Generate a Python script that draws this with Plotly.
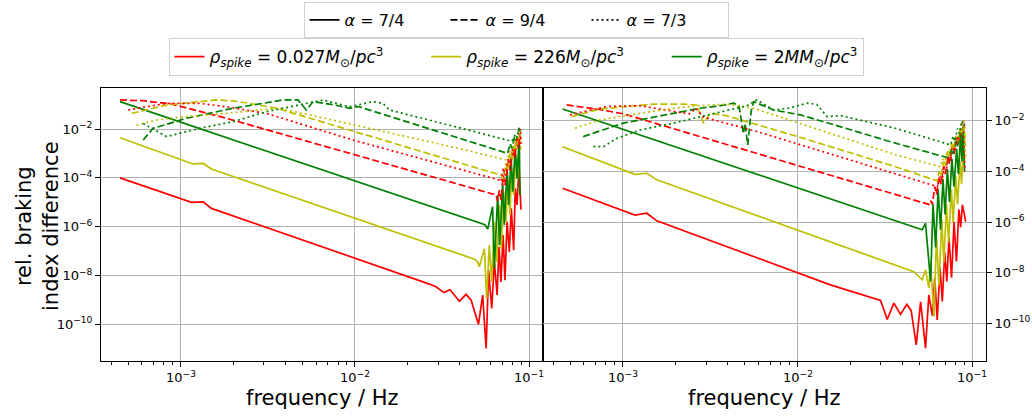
import math
import plotly.graph_objects as go

# ---------------------------------------------------------------------------
# Curves: log10(frequency / Hz) and log10(rel. braking index difference)
# Left panel
# ---------------------------------------------------------------------------
L_RED_SOLID_LF = [-3.347, -2.937, -2.870, -2.823, -1.573, -1.535, -1.490, -1.455, -1.401, -1.363,
                  -1.334, -1.292, -1.268, -1.248, -1.234, -1.216, -1.201, -1.185, -1.174, -1.163,
                  -1.151, -1.140, -1.128, -1.115, -1.104, -1.090, -1.081, -1.071, -1.060, -1.048]
L_RED_SOLID_LV = [-4.00, -5.00, -4.98, -5.25, -8.35, -8.46, -8.70, -8.58, -9.05, -8.77,
                  -9.01, -10.00, -8.80, -10.99, -7.78, -9.35, -7.44, -8.80, -6.82, -8.26,
                  -6.34, -8.19, -5.80, -7.03, -5.25, -6.96, -4.43, -5.11, -3.61, -5.30]

L_YEL_SOLID_LF = [-3.347, -2.928, -2.870, -2.823, -1.315, -1.297, -1.287, -1.268, -1.258, -1.245,
                  -1.230, -1.216, -1.201, -1.187, -1.172, -1.161, -1.148, -1.134, -1.125, -1.111,
                  -1.102, -1.090, -1.077, -1.068, -1.058, -1.048]
L_YEL_SOLID_LV = [-2.36, -3.43, -3.41, -3.64, -7.33, -7.44, -7.64, -7.09, -6.90, -8.94,
                  -6.75, -8.26, -5.80, -7.44, -5.11, -6.89, -4.57, -5.80, -4.02, -5.52,
                  -3.61, -4.70, -3.07, -4.02, -2.66, -2.84]

L_GRN_SOLID_LF = [-3.347, -1.255, -1.239, -1.224, -1.211, -1.201, -1.182, -1.171, -1.153, -1.144,
                  -1.128, -1.119, -1.105, -1.096, -1.081, -1.071, -1.058, -1.054]
L_GRN_SOLID_LV = [-0.88, -5.92, -6.10, -5.66, -5.18, -7.71, -4.70, -6.75, -4.23, -5.93,
                  -3.61, -5.11, -3.13, -4.57, -2.79, -4.02, -2.38, -4.70]

L_RED_DASH_LF = [-3.347, -3.218, -3.056, -2.737, -1.191, -1.182, -1.172, -1.163, -1.150, -1.140,
                 -1.120, -1.110, -1.095, -1.085, -1.072, -1.063, -1.055, -1.048]
L_RED_DASH_LV = [-0.81, -0.84, -0.97, -1.56, -4.70, -4.95, -4.50, -4.90, -3.90, -4.30,
                 -3.30, -3.70, -2.80, -3.20, -2.40, -2.80, -2.20, -2.60]

L_YEL_DASH_LF = [-3.280, -3.080, -2.794, -2.700, -2.603, -2.450, -1.163, -1.150, -1.135, -1.125,
                 -1.110, -1.100, -1.085, -1.075, -1.062, -1.050]
L_YEL_DASH_LV = [-1.36, -1.02, -0.81, -0.85, -0.95, -1.15, -3.89, -4.05, -3.40, -3.70,
                 -3.00, -3.25, -2.60, -2.85, -2.30, -2.50]

L_GRN_DASH_LF = [-3.214, -3.157, -2.966, -2.699, -2.413, -2.327, -2.279, -2.240, -2.128, -2.031,
                 -1.980, -1.144, -1.125, -1.110, -1.100, -1.085, -1.075, -1.060, -1.050]
L_GRN_DASH_LV = [-2.45, -1.97, -1.56, -1.15, -0.81, -0.81, -1.22, -0.88, -1.00, -1.15,
                 -1.08, -2.93, -3.00, -2.60, -2.80, -2.30, -2.50, -2.00, -2.20]

L_RED_DOT_LF = [-3.300, -3.080, -2.890, -2.737, -2.508, -2.012, -1.172, -1.163, -1.150, -1.140,
                -1.120, -1.110, -1.095, -1.085, -1.070, -1.060, -1.052, -1.048]
L_RED_DOT_LV = [-1.22, -0.95, -0.95, -1.09, -1.36, -2.45, -4.09, -4.15, -3.60, -3.90,
                -3.20, -3.50, -2.80, -3.10, -2.30, -2.60, -2.00, -2.60]

L_YEL_DOT_LF = [-3.252, -3.137, -2.985, -2.737, -2.546, -2.432, -1.430, -1.130, -1.110, -1.100,
                -1.085, -1.075, -1.060, -1.050]
L_YEL_DOT_LV = [-1.84, -1.63, -1.50, -1.36, -1.22, -1.15, -2.75, -3.27, -2.90, -3.10,
                -2.50, -2.70, -2.10, -2.30]

L_GRN_DOT_LF = [-3.214, -3.080, -2.890, -2.699, -2.508, -2.317, -2.184, -2.031, -1.898, -1.840,
                -1.802, -1.100, -1.080, -1.070, -1.058, -1.050]
L_GRN_DOT_LV = [-1.77, -2.31, -1.97, -1.70, -1.29, -1.02, -0.81, -1.09, -0.88, -0.95,
                -1.22, -2.50, -2.20, -2.35, -1.95, -2.10]

# ---------------------------------------------------------------------------
# Right panel
# ---------------------------------------------------------------------------
R_RED_SOLID_LF = [-3.344, -2.930, -2.862, -2.805, -1.812, -1.525, -1.487, -1.449, -1.411, -1.375,
                  -1.350, -1.321, -1.296, -1.268, -1.249, -1.229, -1.215, -1.201, -1.185, -1.172,
                  -1.158, -1.146, -1.134, -1.119, -1.105, -1.091, -1.077, -1.067, -1.057, -1.038]
R_RED_SOLID_LV = [-4.66, -5.72, -5.65, -5.95, -8.48, -9.10, -9.85, -9.20, -9.65, -9.25,
                  -9.50, -10.85, -9.15, -10.98, -8.88, -9.70, -8.20, -9.87, -7.80, -9.14,
                  -7.20, -8.35, -6.60, -8.20, -6.00, -7.56, -5.50, -6.20, -5.32, -5.98]

R_YEL_SOLID_LF = [-3.344, -2.930, -2.862, -2.805, -1.335, -1.287, -1.268, -1.249, -1.239, -1.220,
                  -1.205, -1.191, -1.175, -1.163, -1.148, -1.136, -1.120, -1.110, -1.095, -1.085,
                  -1.070, -1.062, -1.052, -1.043]
R_YEL_SOLID_LV = [-3.02, -4.11, -4.07, -4.33, -7.96, -8.28, -7.89, -8.60, -7.60, -9.73,
                  -6.60, -8.50, -5.90, -7.60, -5.30, -6.80, -4.70, -6.00, -4.20, -5.30,
                  -3.60, -4.50, -3.20, -3.50]

R_GRN_SOLID_LF = [-3.344, -1.287, -1.268, -1.249, -1.239, -1.225, -1.210, -1.196, -1.182, -1.168,
                  -1.156, -1.143, -1.131, -1.117, -1.105, -1.090, -1.080, -1.067, -1.060, -1.052,
                  -1.045]
R_GRN_SOLID_LV = [-1.53, -6.30, -6.05, -7.50, -8.35, -5.30, -7.00, -4.70, -6.30, -4.30,
                  -5.70, -3.90, -5.20, -3.50, -4.60, -3.10, -4.10, -2.50, -3.60, -2.20,
                  -4.00]

R_RED_DASH_LF = [-3.321, -3.149, -2.997, -1.249, -1.239, -1.229, -1.215, -1.205, -1.190, -1.180,
                 -1.165, -1.155, -1.140, -1.130, -1.115, -1.105, -1.090, -1.080, -1.065, -1.055,
                 -1.045]
R_RED_DASH_LV = [-1.37, -1.53, -1.72, -5.30, -5.15, -5.30, -4.60, -4.90, -4.20, -4.50,
                 -3.80, -4.10, -3.40, -3.70, -3.00, -3.30, -2.70, -2.90, -2.30, -2.50,
                 -2.10]

R_YEL_DASH_LF = [-3.292, -3.130, -2.825, -2.650, -2.576, -2.538, -2.500, -2.404, -1.984, -1.440,
                 -1.201, -1.191, -1.180, -1.165, -1.155, -1.140, -1.130, -1.115, -1.105, -1.090,
                 -1.080, -1.065, -1.055, -1.045, -1.040]
R_YEL_DASH_LV = [-1.83, -1.53, -1.34, -1.34, -1.37, -2.09, -1.70, -1.80, -2.65, -3.81,
                 -4.37, -4.00, -4.20, -3.60, -3.80, -3.20, -3.40, -2.90, -3.10, -2.60,
                 -2.80, -2.30, -2.50, -2.20, -3.00]

R_GRN_DASH_LF = [-3.226, -2.997, -2.710, -2.557, -2.442, -2.366, -2.335, -2.310, -2.300, -2.285,
                 -2.265, -2.250, -2.137, -1.984, -1.440, -1.134, -1.120, -1.110, -1.095, -1.085,
                 -1.070, -1.060, -1.050]
R_GRN_DASH_LV = [-2.62, -2.09, -1.70, -1.50, -1.40, -1.30, -1.40, -2.50, -2.10, -2.95,
                 -1.60, -1.24, -1.57, -1.76, -2.88, -3.47, -3.10, -3.30, -2.80, -3.00,
                 -2.50, -2.70, -2.20]

R_RED_DOT_LF = [-3.302, -3.092, -2.901, -2.710, -2.620, -2.580, -2.540, -2.232, -1.440, -1.200,
                -1.185, -1.175, -1.160, -1.150, -1.135, -1.125, -1.110, -1.100, -1.085, -1.075,
                -1.060, -1.052, -1.043]
R_RED_DOT_LV = [-1.76, -1.43, -1.40, -1.63, -1.72, -1.50, -1.85, -2.42, -4.11, -4.60,
                -4.20, -4.40, -3.80, -4.00, -3.40, -3.60, -3.00, -3.20, -2.60, -2.80,
                -2.10, -2.00, -4.00]

R_YEL_DOT_LF = [-3.273, -3.130, -2.901, -2.710, -2.557, -2.404, -2.252, -1.440, -1.182, -1.170,
                -1.160, -1.145, -1.135, -1.120, -1.110, -1.095, -1.085, -1.070, -1.060, -1.050,
                -1.038]
R_YEL_DOT_LV = [-2.29, -1.96, -1.70, -1.50, -1.40, -1.34, -1.50, -3.34, -3.81, -3.50,
                -3.70, -3.20, -3.40, -2.90, -3.10, -2.60, -2.80, -2.30, -2.50, -2.00,
                -3.40]

R_GRN_DOT_LF = [-3.168, -3.110, -3.034, -2.901, -2.710, -2.557, -2.404, -2.289, -2.232, -2.137,
                -2.050, -1.946, -1.890, -1.831, -1.755, -1.440, -1.124, -1.110, -1.100, -1.085,
                -1.075, -1.060, -1.050, -1.040]
R_GRN_DOT_LV = [-3.02, -3.02, -2.69, -2.36, -2.09, -1.83, -1.57, -1.40, -1.17, -1.57,
                -1.50, -1.30, -1.35, -1.83, -1.79, -2.29, -2.95, -2.60, -2.80, -2.30,
                -2.50, -2.00, -2.20, -2.10]

# Legend labels and ticks
ALPHA_LABELS = ["<i>α</i> = 7/4", "<i>α</i> = 9/4", "<i>α</i> = 7/3"]
RHO_LABELS = [
    "<i>ρ</i><sub><i>spike</i></sub> = 0.027<i>M</i><sub>⊙</sub>/<i>pc</i><sup>3</sup>",
    "<i>ρ</i><sub><i>spike</i></sub> = 226<i>M</i><sub>⊙</sub>/<i>pc</i><sup>3</sup>",
    "<i>ρ</i><sub><i>spike</i></sub> = 2<i>MM</i><sub>⊙</sub>/<i>pc</i><sup>3</sup>",
]
X_TICK_EXP = [-3, -2, -1]
Y_TICK_EXP = [-2, -4, -6, -8, -10]
X_RANGE = [-3.456, -0.922]

COLORS = ["#ff0000", "#bfbf00", "#008000"]
DASHES = ["solid", "7px,3px", "2px,3px"]
FONT = "DejaVu Sans"
GAP = "\u00a0" * 7

panels = {
    "left": [
        [(L_RED_SOLID_LF, L_RED_SOLID_LV), (L_YEL_SOLID_LF, L_YEL_SOLID_LV), (L_GRN_SOLID_LF, L_GRN_SOLID_LV)],
        [(L_RED_DASH_LF, L_RED_DASH_LV), (L_YEL_DASH_LF, L_YEL_DASH_LV), (L_GRN_DASH_LF, L_GRN_DASH_LV)],
        [(L_RED_DOT_LF, L_RED_DOT_LV), (L_YEL_DOT_LF, L_YEL_DOT_LV), (L_GRN_DOT_LF, L_GRN_DOT_LV)],
    ],
    "right": [
        [(R_RED_SOLID_LF, R_RED_SOLID_LV), (R_YEL_SOLID_LF, R_YEL_SOLID_LV), (R_GRN_SOLID_LF, R_GRN_SOLID_LV)],
        [(R_RED_DASH_LF, R_RED_DASH_LV), (R_YEL_DASH_LF, R_YEL_DASH_LV), (R_GRN_DASH_LF, R_GRN_DASH_LV)],
        [(R_RED_DOT_LF, R_RED_DOT_LV), (R_YEL_DOT_LF, R_YEL_DOT_LV), (R_GRN_DOT_LF, R_GRN_DOT_LV)],
    ],
}
axes_of = {"left": ("x", "y"), "right": ("x2", "y2")}

fig = go.Figure()

for name, groups in panels.items():
    xa, ya = axes_of[name]
    for a_idx, group in enumerate(groups):
        for c_idx, (lf, lv) in enumerate(group):
            fig.add_trace(go.Scatter(
                x=[10 ** v for v in lf], y=[10 ** v for v in lv],
                mode="lines", xaxis=xa, yaxis=ya, showlegend=False,
                line=dict(color=COLORS[c_idx], width=1.7, dash=DASHES[a_idx]),
                hoverinfo="skip",
            ))

# legend entries: line styles (top box) and densities (lower box)
for a_idx, lab in enumerate(ALPHA_LABELS):
    fig.add_trace(go.Scatter(x=[None], y=[None], mode="lines", name=lab, legend="legend",
                             line=dict(color="black", width=1.7, dash=DASHES[a_idx])))
for c_idx, lab in enumerate(RHO_LABELS):
    fig.add_trace(go.Scatter(x=[None], y=[None], mode="lines",
                             name=lab + (GAP if c_idx < len(RHO_LABELS) - 1 else ""),
                             legend="legend2",
                             line=dict(color=COLORS[c_idx], width=1.7)))

W, H = 1032, 420
XL0, XL1, XR1 = 101, 543, 986
YT, YB = 88, 361
dom_y = [1 - YB / H, 1 - YT / H]

x_ticks = [10.0 ** e for e in X_TICK_EXP]
x_text = ["10<sup>−%d</sup>" % -e for e in X_TICK_EXP]
x_minor = [m * 10.0 ** e for e in (-4, -3, -2) for m in range(2, 10)
           if X_RANGE[0] < math.log10(m * 10.0 ** e) < X_RANGE[1]]
y_ticks = [10.0 ** e for e in Y_TICK_EXP]
y_text = ["10<sup>−%d</sup>" % -e for e in Y_TICK_EXP]

tick_font = dict(size=13, color="black", family=FONT)
common_x = dict(type="log", range=X_RANGE, tickmode="array", tickvals=x_ticks,
                showticklabels=False,
                ticks="outside", ticklen=5, tickcolor="black", showline=True, linecolor="black",
                linewidth=1, mirror=True, showgrid=True, gridcolor="#b0b0b0", gridwidth=0.8,
                zeroline=False, automargin=False,
                minor=dict(tickmode="array", tickvals=x_minor, ticks="outside", ticklen=3,
                           tickcolor="black", showgrid=False))
common_y = dict(type="log", tickmode="array", tickvals=y_ticks, ticktext=y_text,
                ticks="outside", ticklen=5, tickcolor="black", showline=True, linecolor="black",
                linewidth=1, mirror=True, showgrid=True, gridcolor="#b0b0b0", gridwidth=0.8,
                zeroline=False, automargin=False, tickfont=tick_font)

title_font = dict(size=21, family=FONT, color="black")
annotations = [
    dict(text="frequency / Hz", x=(XL0 + XL1) / 2 / W, y=1 - 398 / H, xref="paper", yref="paper",
         xanchor="center", yanchor="middle", showarrow=False, font=title_font),
    dict(text="frequency / Hz", x=(XL1 + XR1) / 2 / W, y=1 - 398 / H, xref="paper", yref="paper",
         xanchor="center", yanchor="middle", showarrow=False, font=title_font),
    dict(text="rel. braking<br>index difference", x=37 / W, y=1 - 226 / H, xref="paper", yref="paper",
         xanchor="center", yanchor="middle", showarrow=False, textangle=-90, font=title_font),
]
# frequency tick labels, placed on each x axis at the decade positions
for xref in ("x", "x2"):
    for e, txt in zip(X_TICK_EXP, x_text):
        annotations.append(dict(text=txt, x=e, xref=xref, y=1 - 377 / H, yref="paper",
                                xanchor="center", yanchor="middle", showarrow=False,
                                font=tick_font))

fig.update_layout(
    width=W, height=H,
    margin=dict(l=0, r=0, t=0, b=0),
    paper_bgcolor="white", plot_bgcolor="white",
    font=dict(family=FONT, color="black"),
    xaxis=dict(domain=[XL0 / W, XL1 / W], anchor="y", **common_x),
    xaxis2=dict(domain=[XL1 / W, XR1 / W], anchor="y2", **common_x),
    yaxis=dict(domain=dom_y, anchor="x", range=[-11.5, -0.32], **common_y),
    yaxis2=dict(domain=dom_y, anchor="x2", side="right", range=[-11.49, -0.70], **common_y),
    legend=dict(orientation="h", x=0.5, xanchor="center", y=1 - 2 / H, yanchor="top",
                bordercolor="#d0d0d0", borderwidth=1, bgcolor="white",
                font=dict(size=16, family=FONT, color="black"),
                entrywidth=96, entrywidthmode="pixels"),
    legend2=dict(orientation="h", x=0.5, xanchor="center", y=1 - 38 / H, yanchor="top",
                 bordercolor="#d0d0d0", borderwidth=1, bgcolor="white",
                 font=dict(size=17, family=FONT, color="black")),
    annotations=annotations,
)

fig.write_html("out.html")
